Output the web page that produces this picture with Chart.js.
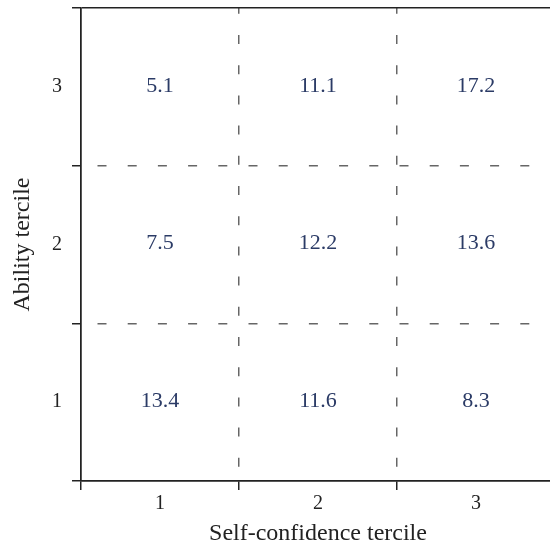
<!DOCTYPE html>
<html>
<head>
<meta charset="utf-8">
<script src="https://cdn.jsdelivr.net/npm/chart.js@4.4.0/dist/chart.umd.min.js"></script>
<style>
  html, body { margin: 0; padding: 0; background: #fff; overflow: hidden; }
  #wrap { position: relative; width: 560px; height: 546px; }
</style>
</head>
<body>
<div id="wrap"><canvas id="c"></canvas></div>
<script>
// Categories (tick labels)
const selfConfidenceTerciles = ['1', '2', '3'];   // x axis, left to right
const abilityTerciles = ['3', '2', '1'];          // y axis, top to bottom

// Cell values by ability tercile (columns = self-confidence tercile 1..3)
const abilityTercile3 = [5.1, 11.1, 17.2];
const abilityTercile2 = [7.5, 12.2, 13.6];
const abilityTercile1 = [13.4, 11.6, 8.3];

const xTitle = 'Self-confidence tercile';
const yTitle = 'Ability tercile';

const rows = { '3': abilityTercile3, '2': abilityTercile2, '1': abilityTercile1 };
const cells = [];
abilityTerciles.forEach(a => {
  selfConfidenceTerciles.forEach((s, j) => {
    cells.push({ x: s, y: a, v: rows[a][j] });
  });
});

const SERIF = '"Liberation Serif", "DejaVu Serif", serif';
const DASH = [9, 21.2];

const cellText = {
  id: 'cellText',
  afterDatasetsDraw(chart) {
    const ctx = chart.ctx;
    const meta = chart.getDatasetMeta(0);
    ctx.save();
    ctx.font = '22px ' + SERIF;
    ctx.fillStyle = '#2b3b66';
    ctx.textAlign = 'center';
    ctx.textBaseline = 'middle';
    meta.data.forEach((el, i) => {
      const d = chart.data.datasets[0].data[i];
      ctx.fillText(d.v.toFixed(1), el.x, el.y - 1);
    });
    ctx.restore();
  }
};

const interior = c => c.index === 1 || c.index === 2;

new Chart(document.getElementById('c'), {
  type: 'scatter',
  data: {
    datasets: [{
      data: cells,
      pointRadius: 0,
      pointHoverRadius: 0,
      showLine: false
    }]
  },
  options: {
    responsive: true,
    maintainAspectRatio: false,
    animation: false,
    events: [],
    layout: { padding: { top: 8, right: 5, left: 0, bottom: 0 } },
    plugins: { legend: { display: false }, tooltip: { enabled: false } },
    scales: {
      x: {
        type: 'category',
        labels: selfConfidenceTerciles,
        offset: true,
        afterFit: s => { s.height = 65; s.paddingLeft = 0; s.paddingRight = 0; },
        grid: {
          offset: true,
          color: c => interior(c) ? '#666' : '#222',
          lineWidth: 1.5,
          tickColor: '#222',
          tickWidth: 1.5,
          tickLength: 9,
          tickBorderDash: []
        },
        border: {
          display: true,
          color: '#222',
          width: 1.5,
          dash: c => interior(c) ? DASH : [],
          dashOffset: 3.2
        },
        ticks: {
          color: '#222',
          padding: 2,
          font: { family: SERIF, size: 20 }
        },
        title: {
          display: true,
          text: xTitle,
          color: '#222',
          font: { family: SERIF, size: 24 },
          padding: { top: 0, bottom: -2 }
        }
      },
      y: {
        type: 'category',
        labels: abilityTerciles,
        offset: true,
        afterFit: s => { s.width = 81; s.paddingTop = 0; s.paddingBottom = 0; },
        grid: {
          offset: true,
          color: c => interior(c) ? '#666' : '#222',
          lineWidth: 1.5,
          tickColor: '#222',
          tickWidth: 1.5,
          tickLength: 9,
          tickBorderDash: []
        },
        border: {
          display: true,
          color: '#222',
          width: 1.5,
          dash: c => interior(c) ? DASH : [],
          dashOffset: 14.2
        },
        ticks: {
          color: '#222',
          padding: 10,
          font: { family: SERIF, size: 20 }
        },
        title: {
          display: true,
          text: yTitle,
          color: '#222',
          font: { family: SERIF, size: 24 },
          padding: { top: 8, bottom: 0 }
        }
      }
    }
  },
  plugins: [cellText]
});
</script>
</body>
</html>
